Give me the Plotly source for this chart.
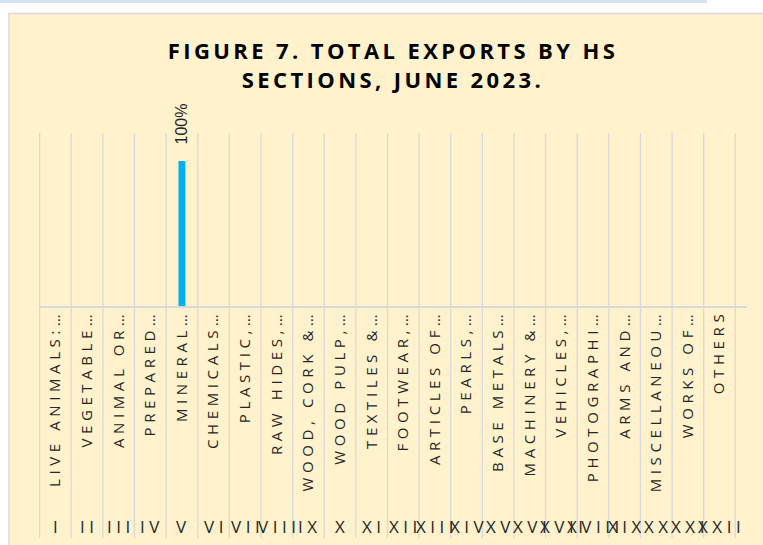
import plotly.graph_objects as go

# ---------------- data ----------------
section_numerals = ["I", "II", "III", "IV", "V", "VI", "VII", "VIII", "IX", "X", "XI",
                    "XII", "XIII", "XIV", "XV", "XVI", "XVII", "XVIII", "XIX", "XX", "XXI", "XXII"]
section_labels = ["LIVE ANIMALS:…", "VEGETABLE…", "ANIMAL OR…", "PREPARED…", "MINERAL…",
                  "CHEMICALS…", "PLASTIC,…", "RAW HIDES,…", "WOOD, CORK &…", "WOOD PULP,…",
                  "TEXTILES &…", "FOOTWEAR,…", "ARTICLES OF…", "PEARLS,…", "BASE METALS…",
                  "MACHINERY &…", "VEHICLES,…", "PHOTOGRAPHI…", "ARMS AND…", "MISCELLANEOU…",
                  "WORKS OF…", "OTHERS"]
export_share = [0, 0, 0, 0, 100, 0, 0, 0, 0, 0, 0, 0, 0, 0, 0, 0, 0, 0, 0, 0, 0, 0]
title_lines = ["FIGURE 7. TOTAL EXPORTS BY HS", "SECTIONS, JUNE 2023."]

# ---------------- layout geometry ----------------
W, H = 763, 545
L, R, T, B = 39, 747, 133, 306          # plot area in pixels
BG = "#FFF2CC"
GRID = "#D9D9D9"
BAR = "#00B0F0"
TXT = "#262626"
FONT = "Open Sans"


def px_x(p):
    return (p - L) / (R - L)


def px_y(p):
    return (B - p) / (B - T)


def spaced(s, sp):
    return f'<span style="letter-spacing:{sp}px">{s}</span>'


fig = go.Figure()
fig.add_trace(go.Bar(
    x=section_labels,
    y=export_share,
    marker=dict(color=BAR, line=dict(width=0)),
    hoverinfo="x+y",
))

shapes = []
# chart frame (extends beyond the window at right and bottom)
shapes.append(dict(type="rect", xref="paper", yref="paper", layer="below",
                   x0=px_x(9), x1=px_x(775), y0=px_y(560), y1=px_y(13.5),
                   fillcolor=BG, line=dict(color=GRID, width=1.5)))
# thin light-blue strip at the very top
shapes.append(dict(type="rect", xref="paper", yref="paper", layer="above",
                   x0=px_x(0), x1=px_x(707), y0=px_y(3), y1=px_y(0),
                   fillcolor="#D5E2F2", line=dict(width=0)))
# category boundary lines running through the plot and both label rows
for i in range(len(section_labels) + 1):
    shapes.append(dict(type="line", xref="x", yref="paper", layer="below",
                       x0=i - 0.5, x1=i - 0.5, y0=px_y(538), y1=1,
                       line=dict(color=GRID, width=1.3)))

annotations = []
# value labels
for lab, v in zip(section_labels, export_share):
    if v > 0:
        annotations.append(dict(x=lab, y=v, xref="x", yref="y", text=f"{v:.0f}%",
                                textangle=-90, showarrow=False, yanchor="bottom",
                                yshift=15, font=dict(family="Liberation Sans", size=16, color=TXT)))
# section numerals row
for lab, num in zip(section_labels, section_numerals):
    annotations.append(dict(x=lab, y=px_y(526.5), xref="x", yref="paper",
                            text=spaced(num, 4.5), showarrow=False, xshift=2,
                            yanchor="middle", xanchor="center",
                            font=dict(family=FONT, size=17, color=TXT)))

fig.update_layout(
    width=W, height=H,
    margin=dict(l=L, r=W - R, t=T, b=H - B, pad=0, autoexpand=False),
    paper_bgcolor="white",
    plot_bgcolor="rgba(0,0,0,0)",
    showlegend=False,
    bargap=0.78,
    title=dict(text="<br>".join(spaced(t, 3.4) for t in title_lines),
               x=0.5, xref="paper", xanchor="center",
               y=1 - 59 / H, yref="container", yanchor="top",
               font=dict(family=FONT, size=22, color="#000000", weight="bold")),
    xaxis=dict(
        type="category",
        automargin=False,
        tickmode="array",
        tickvals=section_labels,
        ticktext=[spaced(s, 4.6) for s in section_labels],
        tickangle=-90,
        ticks="",
        ticklabelstandoff=-4,
        showgrid=False,
        showline=True, linecolor=GRID, linewidth=1.5,
        tickfont=dict(family=FONT, size=15, color=TXT),
        fixedrange=True,
    ),
    yaxis=dict(range=[0, 119.3], visible=False, fixedrange=True, automargin=False),
    shapes=shapes,
    annotations=annotations,
)

fig.write_html("out.html", config={"displayModeBar": False},
               post_script="document.body.style.margin='0';document.body.style.overflow='hidden';")
